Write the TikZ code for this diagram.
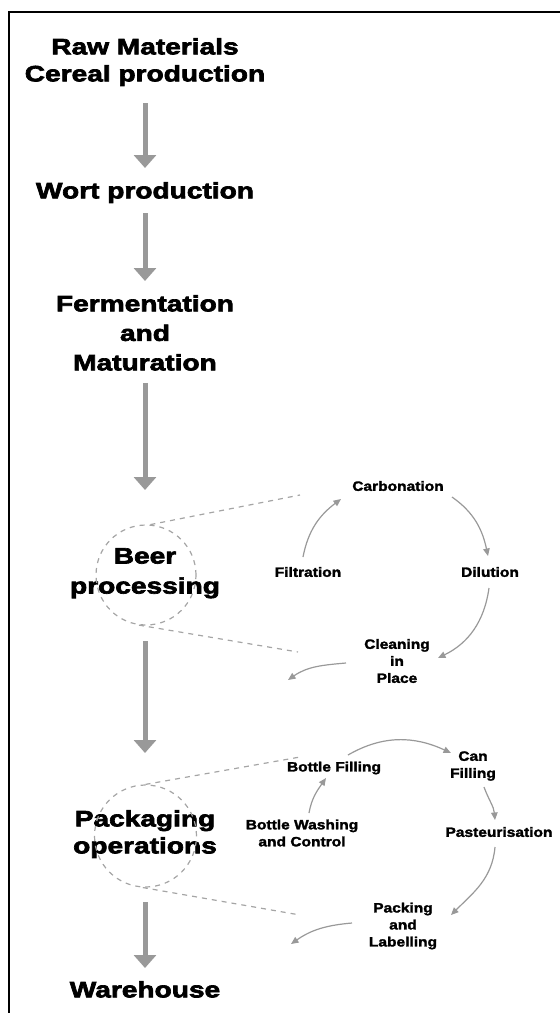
\documentclass[tikz,border=0pt]{standalone}
\usepackage{fontspec}
\usetikzlibrary{arrows.meta}
\newfontfamily\bigfam{Liberation Sans}[BoldFeatures={FakeStretch=1.26,FakeBold=3}]
\newfontfamily\smallfam{Liberation Sans}[BoldFeatures={FakeStretch=1.15,FakeBold=2}]
\definecolor{arrowgray}{RGB}{153,153,153}
\definecolor{dashgray}{RGB}{165,165,165}
\tikzset{
  mainlabel/.style={inner sep=0pt, anchor=north, align=center, text=black},
  sublabel/.style={inner sep=0pt, align=center, text=black, font=\smallfam\bfseries\fontsize{13.5}{17}\selectfont},
  bigarrow/.style={draw=arrowgray, line width=5pt, -{Triangle[length=13pt,width=22pt]}, arrowgray},
  smallarrow/.style={draw=arrowgray, line width=1.2pt, -{Triangle[length=7.5pt,width=6.5pt]}},
  dashline/.style={draw=dashgray, line width=1.2pt, dash pattern=on 5pt off 5pt},
  dcircle/.style={circle, draw=dashgray, line width=1.2pt, dash pattern=on 5pt off 5pt, inner sep=0pt}
}
\begin{document}
\begin{tikzpicture}[x=1pt,y=1pt]
\useasboundingbox (0,0) rectangle (560,-1013);
% frame
\draw[line width=2.4pt, line join=miter] (8.7,-1013) -- (8.7,-12) -- (560,-12);

% main column
\node[mainlabel, font=\bigfam\bfseries\fontsize{22.3}{27}\selectfont] (raw) at (145,-38) {Raw Materials\\Cereal production};
\node[mainlabel, font=\bigfam\bfseries\fontsize{22.3}{27}\selectfont] (wort) at (145,-182) {Wort production};
\node[mainlabel, font=\bigfam\bfseries\fontsize{22.3}{29.5}\selectfont] (ferm) at (145,-295) {Fermentation\\and\\Maturation};
\node[mainlabel, font=\bigfam\bfseries\fontsize{22.3}{30}\selectfont] (beer) at (145,-548) {Beer\\processing};
\node[mainlabel, font=\bigfam\bfseries\fontsize{22.3}{27}\selectfont] (pack) at (145,-810) {Packaging\\operations};
\node[mainlabel, font=\bigfam\bfseries\fontsize{22.3}{27}\selectfont] (ware) at (145,-981) {Warehouse};

\draw[bigarrow, shorten <=17pt, shorten >=14pt] (raw) -- (wort);
\draw[bigarrow, shorten <=10pt, shorten >=14pt] (wort) -- (ferm);
\draw[bigarrow, shorten <=12pt, shorten >=58pt] (ferm) -- (beer);
\draw[bigarrow, shorten <=43pt, shorten >=57pt] (beer) -- (pack);
\draw[bigarrow, shorten <=44pt, shorten >=13pt] (pack) -- (ware);

% dashed circles
\node[dcircle, minimum size=100pt] (bcirc) at (146,-575) {};
\node[dcircle, minimum size=102pt] (pcirc) at (145.5,-836) {};
\coordinate (bct) at (300,-495);
\coordinate (bcb) at (298,-652);
\coordinate (pct) at (300,-757);
\coordinate (pcb) at (300,-915);
\draw[dashline] (bcirc.85) -- (bct);
\draw[dashline] (bcirc.-98) -- (bcb);
\draw[dashline] (pcirc.90) -- (pct);
\draw[dashline] (pcirc.-93) -- (pcb);

% beer processing cycle
\node[sublabel] (carb) at (398,-486) {Carbonation};
\node[sublabel] (filt) at (308,-572) {Filtration};
\node[sublabel] (dil) at (490,-572) {Dilution};
\node[sublabel] (cip) at (397,-661) {Cleaning\\in\\Place};
\coordinate (cipout) at (288,-680);

\draw[smallarrow] ([xshift=-5pt,yshift=15pt]filt.center) to[out=79,in=217] ([xshift=-57pt,yshift=-13pt]carb.center);
\draw[smallarrow] ([xshift=54pt,yshift=-11pt]carb.center) to[out=-35,in=102] ([xshift=-2pt,yshift=16pt]dil.center);
\draw[smallarrow] ([xshift=-1pt,yshift=-16pt]dil.center) to[out=-98,in=26] ([xshift=41pt,yshift=3pt]cip.center);
\draw[smallarrow] ([xshift=-51pt,yshift=-2pt]cip.center) to[out=185,in=35] (cipout);

% packaging cycle
\node[sublabel] (bf) at (334,-768) {Bottle Filling};
\node[sublabel] (can) at (473,-766) {Can\\Filling};
\node[sublabel] (bw) at (302,-833) {Bottle Washing\\and Control};
\node[sublabel] (past) at (499,-832) {Pasteurisation};
\node[sublabel] (pl) at (403,-926) {Packing\\and\\Labelling};
\coordinate (plout) at (291,-944);

\draw[smallarrow] ([xshift=7pt,yshift=20pt]bw.center) to[out=80,in=235] ([xshift=-8pt,yshift=-10pt]bf.center);
\draw[smallarrow] ([xshift=14pt,yshift=13pt]bf.center) to[out=30,in=155] ([xshift=-22pt,yshift=13pt]can.center);
\draw[smallarrow] ([xshift=11pt,yshift=-21pt]can.center) to[out=-70,in=95] ([xshift=-4pt,yshift=12pt]past.center);
\draw[smallarrow] ([xshift=-4pt,yshift=-15pt]past.center) to[out=-95,in=45] ([xshift=48pt,yshift=11pt]pl.center);
\draw[smallarrow] ([xshift=-51pt,yshift=3pt]pl.center) to[out=185,in=35] (plout);
\end{tikzpicture}
\end{document}
